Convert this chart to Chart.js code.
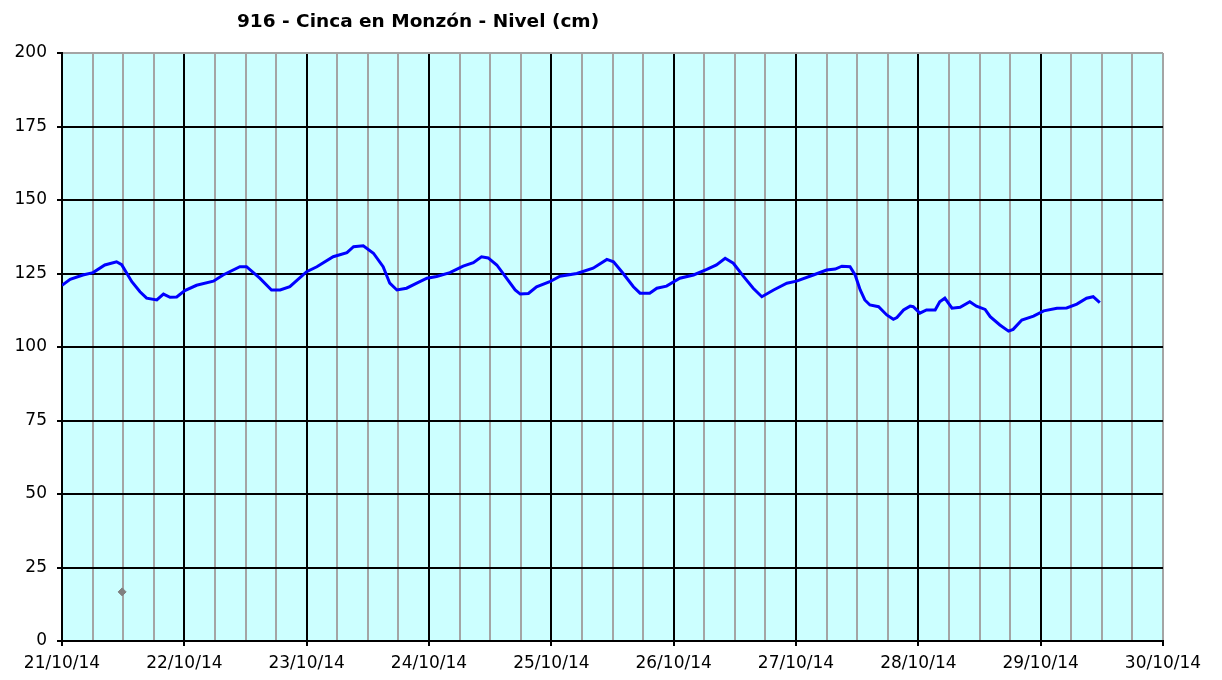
<!DOCTYPE html>
<html>
<head>
<meta charset="utf-8">
<script src="https://cdn.jsdelivr.net/npm/chart.js@4.4.1/dist/chart.umd.min.js"></script>
<style>
  html, body { margin: 0; padding: 0; background: #fff; }
  #wrap { width: 1222px; height: 680px; position: relative; }
</style>
</head>
<body>
<div id="wrap"><canvas id="chart"></canvas></div>
<script>
// hours since 21/10/14 00:00
const hours = [0, 1.6, 4.1, 6.1, 8.4, 10.7, 11.7, 13.7, 15.3, 16.6, 18.6, 19.9, 21.2, 22.5,
  24.1, 26.4, 29.7, 31.6, 34.9, 36.2, 38.8, 41.1, 42.8, 44.7,
  48.0, 50.0, 53.2, 55.9, 57.2, 59.1, 61.1, 63.0, 64.3, 65.7, 67.6, 69.6,
  71.6, 73.5, 76.1, 78.7, 80.7, 82.3, 83.6, 85.3, 87.2, 88.9, 89.9, 91.5, 93.1,
  95.7, 97.7, 101.0, 104.2, 106.9, 108.2, 110.1, 112.1, 113.4, 115.3, 116.7, 118.6,
  121.2, 123.9, 126.5, 128.4, 130.1, 131.7, 133.7, 135.6, 137.3, 139.6, 142.2,
  144.1, 147.4, 150.0, 151.7, 153.0, 154.6, 155.6, 156.6, 157.5, 158.5, 160.2, 161.8,
  163.1, 163.8, 165.1, 166.4, 167.0, 168.3, 169.6, 171.3, 172.2, 173.2, 174.6, 176.2,
  178.1, 179.4, 181.1, 182.1, 184.0, 185.7, 186.6, 188.3, 190.6, 192.6, 195.2,
  197.1, 199.1, 201.0, 202.3, 203.6];
const nivel = [121, 123, 124.5, 125.3, 127.9, 129, 128, 122.2, 118.8, 116.6, 116, 118, 116.9, 117,
  119.2, 121, 122.4, 124.5, 127.3, 127.3, 123.4, 119.4, 119.4, 120.5,
  125.6, 127.3, 130.7, 132.1, 134.1, 134.4, 131.9, 127.3, 121.7, 119.4, 120, 121.7,
  123.4, 124, 125.3, 127.5, 128.7, 130.7, 130.3, 127.9, 123.4, 119.4, 118, 118.2, 120.5,
  122.2, 124.1, 125, 126.8, 129.8, 129, 125, 120.5, 118.3, 118.3, 120, 120.7,
  123.4, 124.5, 126.4, 127.9, 130.2, 128.5, 124, 120, 117.1, 119.4, 121.7,
  122.4, 124.5, 126.2, 126.5, 127.5, 127.3, 124.5, 119.4, 116, 114.3, 113.7, 110.9,
  109.4, 110, 112.6, 113.9, 113.7, 111.5, 112.6, 112.6, 115.4, 116.6, 113.2, 113.5,
  115.4, 113.9, 112.8, 110.3, 107.5, 105.4, 106, 109.2, 110.5, 112.3, 113.2,
  113.3, 114.6, 116.6, 117.1, 115.1];
// lone grey marker
const markerHours = [11.8];
const markerValues = [16.7];
const dayLabels = ['21/10/14', '22/10/14', '23/10/14', '24/10/14', '25/10/14',
  '26/10/14', '27/10/14', '28/10/14', '29/10/14', '30/10/14'];
const chartTitle = '916 - Cinca en Monzón - Nivel (cm)';

const FONT = '"DejaVu Sans", Verdana, sans-serif';
const GREY = '#a4a4a4';

const plotBg = {
  id: 'plotBg',
  beforeDraw(chart) {
    const a = chart.chartArea, ctx = chart.ctx;
    ctx.save();
    ctx.fillStyle = '#ccffff';
    ctx.fillRect(a.left, a.top, a.right - a.left, a.bottom - a.top);
    ctx.restore();
  },
  afterDraw(chart) {
    const ctx = chart.ctx;
    ctx.save();
    ctx.font = 'bold 18.5px ' + FONT;
    ctx.fillStyle = '#000';
    ctx.textAlign = 'center';
    ctx.textBaseline = 'middle';
    ctx.fillText(chartTitle, 418, 22);
    ctx.restore();
  }
};

new Chart(document.getElementById('chart'), {
  type: 'line',
  data: {
    datasets: [{
      data: hours.map((h, i) => ({ x: h, y: nivel[i] })),
      borderColor: '#0000ff',
      borderWidth: 3,
      pointRadius: 0,
      tension: 0,
      fill: false
    }, {
      data: markerHours.map((h, i) => ({ x: h, y: markerValues[i] })),
      showLine: false,
      pointStyle: 'rectRot',
      pointRadius: 4,
      backgroundColor: '#808080',
      borderColor: '#808080'
    }]
  },
  options: {
    responsive: true,
    maintainAspectRatio: false,
    animation: false,
    layout: { padding: { top: 53, right: 59, left: 0, bottom: 0 } },
    plugins: { legend: { display: false }, tooltip: { enabled: false } },
    scales: {
      x: {
        type: 'linear',
        min: 0,
        max: 216,
        afterFit: (s) => { s.height = 39; },
        border: { color: '#000', width: 2 },
        grid: {
          color: (c) => (c.tick && c.tick.value % 24 === 0 && c.tick.value !== 216) ? '#000' : GREY,
          tickColor: (c) => (c.tick && c.tick.value % 24 === 0) ? '#000' : 'rgba(0,0,0,0)',
          tickLength: 5,
          lineWidth: 2
        },
        ticks: {
          stepSize: 6,
          autoSkip: false,
          maxRotation: 0,
          padding: 7,
          color: '#000',
          font: { family: FONT, size: 17 },
          callback: (v) => v % 24 === 0 ? dayLabels[v / 24] : ''
        }
      },
      y: {
        min: 0,
        max: 200,
        afterFit: (s) => { s.width = 62; },
        border: { color: '#000', width: 2 },
        grid: {
          color: (c) => (c.tick && c.tick.value === 200) ? GREY : '#000',
          tickColor: '#000',
          tickLength: 5,
          lineWidth: 2
        },
        ticks: {
          stepSize: 25,
          padding: 10,
          color: '#000',
          font: { family: FONT, size: 17 }
        }
      }
    }
  },
  plugins: [plotBg]
});
</script>
</body>
</html>
